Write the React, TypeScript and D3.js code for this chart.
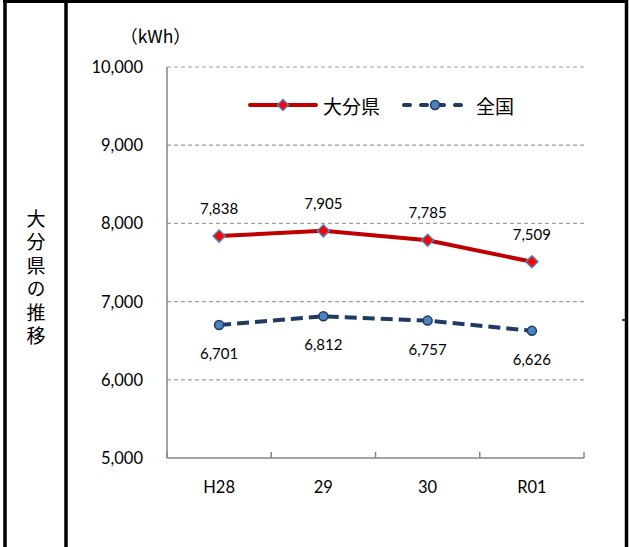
import React from "react";
import * as d3 from "d3";

const categories = ["H28", "29", "30", "R01"];
const oitaValues = [7838, 7905, 7785, 7509];
const nationalValues = [6701, 6812, 6757, 6626];
const yTicks = [5000, 6000, 7000, 8000, 9000, 10000];
const seriesNames = ["大分県", "全国"];
const unitLabel = "（kWh）";
const sideTitle = "大分県の推移";

const W = 629;
const H = 547;
const plotLeft = 167;
const plotRight = 584;
const plotTop = 67;
const plotBottom = 458;

const numFont = "Lato, 'Noto Sans CJK JP', sans-serif";
const jpFont = "'Noto Sans CJK JP', sans-serif";

export default function App() {
  const x = d3.scaleBand<string>().domain(categories).range([plotLeft, plotRight]);
  const y = d3.scaleLinear().domain([5000, 10000]).range([plotBottom, plotTop]);
  const fmt = d3.format(",");
  const cx = (c: string) => (x(c) as number) + x.bandwidth() / 2;

  const line = d3
    .line<number>()
    .x((_, i) => cx(categories[i]))
    .y((d) => y(d));

  const diamond = (px: number, py: number, r: number) =>
    `M${px},${py - r}L${px + r},${py}L${px},${py + r}L${px - r},${py}Z`;

  const boundaries = [...categories.map((c) => x(c) as number), plotRight];

  return (
    <div style={{ position: "absolute", left: 0, top: 0 }}>
      <svg width={W} height={H} style={{ display: "block", background: "#fff" }}>
        {/* frame */}
        <line x1={5} y1={0} x2={5} y2={H} stroke="#000" strokeWidth={3.5} />
        <line x1={66} y1={0} x2={66} y2={H} stroke="#000" strokeWidth={3.5} />
        <line x1={626.5} y1={0} x2={626.5} y2={H} stroke="#000" strokeWidth={3.5} />
        <line x1={3} y1={1.5} x2={628} y2={1.5} stroke="#000" strokeWidth={3} />
        <line x1={622} y1={320} x2={626} y2={320} stroke="#000" strokeWidth={1.5} />

        {/* side title */}
        <text
          x={36}
          y={209}
          style={{ writingMode: "vertical-rl" as any }}
          fontFamily={jpFont}
          fontSize={19}
          letterSpacing={4.5}
          fill="#000"
        >
          {sideTitle}
        </text>

        {/* gridlines */}
        {yTicks
          .filter((t) => t !== 5000)
          .map((t) => (
            <line
              key={t}
              x1={plotLeft}
              x2={plotRight}
              y1={y(t)}
              y2={y(t)}
              stroke="#a0a0a0"
              strokeWidth={1.2}
              strokeDasharray="4,3"
            />
          ))}

        {/* axes */}
        <line x1={plotLeft} x2={plotLeft} y1={plotTop} y2={plotBottom} stroke="#868686" strokeWidth={1.5} />
        <line x1={plotLeft} x2={plotRight} y1={plotBottom} y2={plotBottom} stroke="#868686" strokeWidth={1.5} />
        {boundaries.map((b, i) => (
          <line key={i} x1={b} x2={b} y1={plotBottom} y2={plotBottom - 6} stroke="#868686" strokeWidth={1.5} />
        ))}

        {/* y tick labels */}
        {yTicks.map((t) => (
          <text
            key={t}
            x={143}
            y={y(t)}
            textAnchor="end"
            dominantBaseline="central"
            fontFamily={numFont}
            fontSize={16.5}
            fill="#000"
          >
            {fmt(t)}
          </text>
        ))}

        {/* x labels */}
        {categories.map((c) => (
          <text
            key={c}
            x={cx(c)}
            y={487}
            textAnchor="middle"
            dominantBaseline="central"
            fontFamily={numFont}
            fontSize={16.5}
            fill="#000"
          >
            {c}
          </text>
        ))}

        {/* unit */}
        <text x={155.5} y={35} textAnchor="middle" dominantBaseline="central" fontFamily={jpFont} fontSize={17.5} fill="#000">
          {unitLabel}
        </text>

        {/* national series */}
        <path
          d={line(nationalValues) || ""}
          fill="none"
          stroke="#1f3b63"
          strokeWidth={4}
          strokeDasharray="12,6"
        />
        {nationalValues.map((v, i) => (
          <circle key={i} cx={cx(categories[i])} cy={y(v)} r={4.5} fill="#4f81bd" stroke="#1f3b63" strokeWidth={1.5} />
        ))}
        {nationalValues.map((v, i) => (
          <text
            key={i}
            x={cx(categories[i])}
            y={y(v) + 28}
            textAnchor="middle"
            dominantBaseline="central"
            fontFamily={numFont}
            fontSize={15}
            fill="#000"
          >
            {fmt(v)}
          </text>
        ))}

        {/* oita series */}
        <path d={line(oitaValues) || ""} fill="none" stroke="#c00000" strokeWidth={4} />
        {oitaValues.map((v, i) => (
          <path key={i} d={diamond(cx(categories[i]), y(v), 6)} fill="#ff0000" stroke="#4f81bd" strokeWidth={1.5} />
        ))}
        {oitaValues.map((v, i) => (
          <text
            key={i}
            x={cx(categories[i])}
            y={y(v) - 28}
            textAnchor="middle"
            dominantBaseline="central"
            fontFamily={numFont}
            fontSize={15}
            fill="#000"
          >
            {fmt(v)}
          </text>
        ))}

        {/* legend */}
        <line x1={250} x2={316} y1={105} y2={105} stroke="#c00000" strokeWidth={4} strokeLinecap="round" />
        <path d={diamond(283, 105, 5.5)} fill="#ff0000" stroke="#4f81bd" strokeWidth={1.5} />
        <text x={323} y={105} dominantBaseline="central" fontFamily={jpFont} fontSize={19} fill="#000">
          {seriesNames[0]}
        </text>
        <line
          x1={404}
          x2={468}
          y1={105}
          y2={105}
          stroke="#1f3b63"
          strokeWidth={4}
          strokeLinecap="round"
          strokeDasharray="6,11"
        />
        <circle cx={435} cy={105} r={4.5} fill="#4f81bd" stroke="#1f3b63" strokeWidth={1.5} />
        <text x={476} y={105} dominantBaseline="central" fontFamily={jpFont} fontSize={19} fill="#000">
          {seriesNames[1]}
        </text>
      </svg>
    </div>
  );
}
